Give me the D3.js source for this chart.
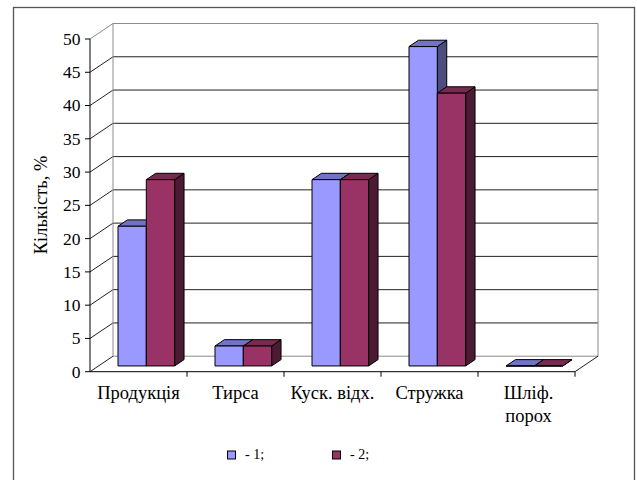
<!DOCTYPE html>
<html><head><meta charset="utf-8">
<script src="https://cdn.jsdelivr.net/npm/d3@7"></script>
<style>html,body{margin:0;padding:0;background:#fff;}svg{display:block;} text{font-family:"Liberation Serif", serif;}</style>
</head><body><svg id="c" width="637" height="480"></svg>
<script>
const categories = ["Продукція", "Тирса", "Куск. відх.", "Стружка", "Шліф.|порох"];
const seriesNames = ["- 1;", "- 2;"];
const series1 = [21, 3, 28, 48, 0];
const series2 = [28, 3, 28, 41, 0];
const yTicks = [0, 5, 10, 15, 20, 25, 30, 35, 40, 45, 50];
const yTitle = "Кількість, %";

const front = ["#9999FF", "#993366"];
const topC = ["#7373C6", "#7A2952"];
const sideC = ["#4D4D80", "#4D1A33"];

const svg = d3.select("#c");

svg.append("rect").attr("x", 13.5).attr("y", 7.5).attr("width", 621).attr("height", 490)
  .attr("fill", "#fff").attr("stroke", "#555").attr("stroke-width", 1.3);

const DX = 23, DY = 15.5;
const x = d3.scaleBand().domain(categories).range([90, 575]).padding(0);
const y = d3.scaleLinear().domain([0, 50]).range([371.7, 39]);
const sub = d3.scaleBand().domain([0, 1]).range([19.5, 76.1]).padding(0);
const P = (px, py, z) => [px + z * DX, py - z * DY];

const g = svg.append("g");
yTicks.forEach(t => {
  const a = P(90, y(t), 1), b = P(575, y(t), 1);
  const isEdge = (t === 0 || t === 50);
  g.append("line").attr("x1", a[0]).attr("y1", a[1]).attr("x2", b[0]).attr("y2", b[1])
    .attr("stroke", isEdge ? "#8c8c8c" : "#222").attr("stroke-width", 1);
  g.append("line").attr("x1", 90).attr("y1", y(t)).attr("x2", a[0]).attr("y2", a[1])
    .attr("stroke", t === 50 ? "#8c8c8c" : "#222").attr("stroke-width", 1);
});
[90, 575].forEach(px => {
  const a = P(px, y(0), 1), b = P(px, y(50), 1);
  g.append("line").attr("x1", a[0]).attr("y1", a[1]).attr("x2", b[0]).attr("y2", b[1])
    .attr("stroke", "#8c8c8c");
});
{
  const a = P(575, y(0), 1);
  g.append("line").attr("x1", 575).attr("y1", y(0)).attr("x2", a[0]).attr("y2", a[1]).attr("stroke", "#222");
}

const z0 = 0.37, z1 = 0.78;
const poly = pts => "M" + pts.map(p => p.join(",")).join("L") + "Z";
const data = [series1, series2];
const bars = svg.append("g");
categories.forEach((c, i) => {
  [0, 1].forEach(s => {
    const v = data[s][i];
    const xl = x(c) + sub(s), xr = xl + sub.bandwidth();
    const yt = y(v), yb = y(0);
    const fA = P(xl, yt, z0), fB = P(xr, yt, z0), fC = P(xr, yb, z0), fD = P(xl, yb, z0);
    const bA = P(xl, yt, z1), bB = P(xr, yt, z1), bC = P(xr, yb, z1);
    const gg = bars.append("g").attr("stroke", "#000").attr("stroke-width", 1).attr("stroke-linejoin", "round");
    gg.append("path").attr("d", poly([fB, bB, bC, fC])).attr("fill", sideC[s]);
    gg.append("path").attr("d", poly([fA, bA, bB, fB])).attr("fill", topC[s]);
    gg.append("path").attr("d", poly([fA, fB, fC, fD])).attr("fill", front[s]);
  });
});

const ax = svg.append("g");
ax.append("line").attr("x1", 90).attr("y1", y(0)).attr("x2", 90).attr("y2", y(50)).attr("stroke", "#000");
ax.append("line").attr("x1", 90).attr("y1", y(0)).attr("x2", 575).attr("y2", y(0)).attr("stroke", "#000");
yTicks.forEach(t => {
  ax.append("line").attr("x1", 85).attr("y1", y(t)).attr("x2", 90).attr("y2", y(t)).attr("stroke", "#000");
  ax.append("text").attr("x", 80.5).attr("y", y(t)).attr("dy", "0.34em").attr("text-anchor", "end")
    .attr("font-size", 17.5).attr("fill", "#000").text(t);
});
categories.forEach((c, i) => {
  const px = x(c);
  if (i > 0) ax.append("line").attr("x1", px).attr("y1", y(0)).attr("x2", px).attr("y2", y(0) + 5).attr("stroke", "#000");
  const lines = c.split("|");
  const t = ax.append("text").attr("text-anchor", "middle").attr("font-size", 18.5).attr("fill", "#000");
  lines.forEach((ln, k) => {
    t.append("tspan").attr("x", px + x.bandwidth() / 2 + (lines.length > 1 ? 2 : 0))
      .attr("y", 399 + k * 23).text(ln);
  });
});
ax.append("line").attr("x1", 575).attr("y1", y(0)).attr("x2", 575).attr("y2", y(0) + 5).attr("stroke", "#000");

svg.append("text").attr("transform", "translate(47,205) rotate(-90)").attr("text-anchor", "middle")
  .attr("font-size", 18.5).attr("fill", "#000").text(yTitle);

const lg = svg.append("g");
[[227, 0], [332, 1]].forEach(([lx, s]) => {
  lg.append("rect").attr("x", lx + 0.5).attr("y", 451).attr("width", 8).attr("height", 8)
    .attr("fill", front[s]).attr("stroke", "#000").attr("stroke-width", 1);
  lg.append("text").attr("x", lx + 18).attr("y", 459).attr("font-size", 14)
    .attr("fill", "#000").text(seriesNames[s]);
});
</script></body></html>
